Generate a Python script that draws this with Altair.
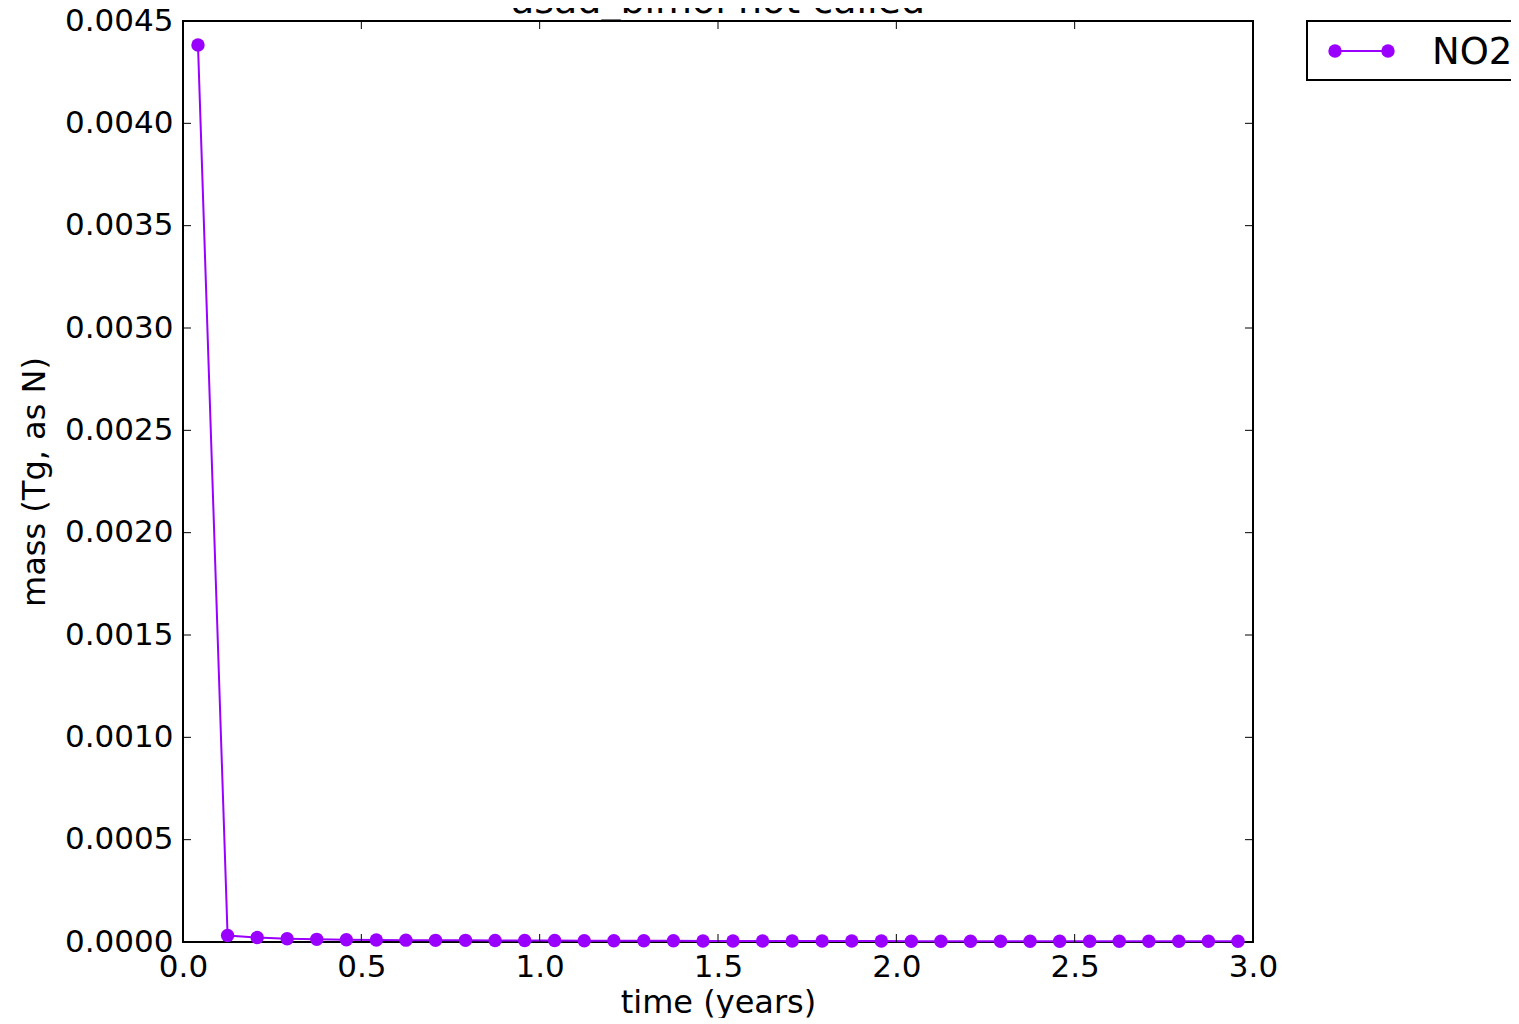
import altair as alt
import pandas as pd

# ---- data ----
time_years = [0.042, 0.125, 0.208, 0.292, 0.375, 0.458, 0.542, 0.625, 0.708,
              0.792, 0.875, 0.958, 1.042, 1.125, 1.208, 1.292, 1.375, 1.458,
              1.542, 1.625, 1.708, 1.792, 1.875, 1.958, 2.042, 2.125, 2.208,
              2.292, 2.375, 2.458, 2.542, 2.625, 2.708, 2.792, 2.875, 2.958]
no2_mass = [0.004383, 0.000032, 0.000022, 0.000016, 0.000013, 0.000011,
            0.000010, 0.000009, 0.000008, 0.000008, 0.000007, 0.000007,
            0.000007, 0.000006, 0.000006, 0.000006, 0.000006, 0.000005,
            0.000005, 0.000005, 0.000005, 0.000005, 0.000005, 0.000005,
            0.000004, 0.000004, 0.000004, 0.000004, 0.000004, 0.000004,
            0.000004, 0.000004, 0.000004, 0.000004, 0.000004, 0.000004]
series_name = ["NO2"]
x_ticks = [0.0, 0.5, 1.0, 1.5, 2.0, 2.5, 3.0]
y_ticks = [0.0, 0.0005, 0.0010, 0.0015, 0.0020, 0.0025, 0.0030, 0.0035, 0.0040, 0.0045]
chart_title = "asad_bimol not called"
x_title = "time (years)"
y_title = "mass (Tg, as N)"

PURPLE = "#9a00ff"
FONT = "DejaVu Sans"
W, H = 1070, 921

df = pd.DataFrame({"time": time_years, "mass": no2_mass, "series": series_name * len(time_years)})
xt = pd.DataFrame({"t": x_ticks})
yt = pd.DataFrame({"v": y_ticks})
leg = pd.DataFrame({"series": series_name})

xscale = alt.Scale(domain=[0, 3], nice=False, zero=False)
yscale = alt.Scale(domain=[0, 0.0045], nice=False, zero=False)
cscale = alt.Scale(domain=series_name, range=[PURPLE])

x_axis = alt.Axis(values=x_ticks, format=".1f", grid=False, ticks=False, domain=False,
                  labelFontSize=31, labelFont=FONT, labelColor="black", labelPadding=10,
                  labelFlush=False, title=x_title, titleFont=FONT, titleFontSize=32,
                  titleFontWeight="normal", titleColor="black", titleX=W / 2, titleY=60,
                  titleBaseline="middle", titleAlign="center")
y_axis = alt.Axis(values=y_ticks, format=".4f", grid=False, ticks=False, domain=False,
                  labelFontSize=31, labelFont=FONT, labelColor="black", labelPadding=10,
                  labelFlush=False, title=y_title, titleFont=FONT, titleFontSize=32,
                  titleFontWeight="normal", titleColor="black", titleX=-149, titleY=H / 2,
                  titleAngle=270, titleBaseline="middle", titleAlign="center")

base = alt.Chart(df)
line = base.mark_line(strokeWidth=2, clip=False).encode(
    x=alt.X("time:Q", scale=xscale, axis=x_axis),
    y=alt.Y("mass:Q", scale=yscale, axis=y_axis),
    color=alt.Color("series:N", scale=cscale, legend=None),
)
pts = base.mark_circle(size=180, opacity=1).encode(
    x=alt.X("time:Q", scale=xscale),
    y=alt.Y("mass:Q", scale=yscale),
    color=alt.Color("series:N", scale=cscale, legend=None),
)

# inward ticks on all four sides (matplotlib style)
tb = alt.Chart(xt).mark_rule(color="black", strokeWidth=1).encode(
    x=alt.X("t:Q", scale=xscale), y=alt.value(H), y2=alt.value(H - 8))
tt = alt.Chart(xt).mark_rule(color="black", strokeWidth=1).encode(
    x=alt.X("t:Q", scale=xscale), y=alt.value(0), y2=alt.value(8))
tl = alt.Chart(yt).mark_rule(color="black", strokeWidth=1).encode(
    y=alt.Y("v:Q", scale=yscale), x=alt.value(0), x2=alt.value(8))
tr = alt.Chart(yt).mark_rule(color="black", strokeWidth=1).encode(
    y=alt.Y("v:Q", scale=yscale), x=alt.value(W), x2=alt.value(W - 8))

# title (partially cut off at the top of the page, as in the reference)
title = alt.Chart(leg).mark_text(text=chart_title, font=FONT, fontSize=38, color="black",
                                 align="center", baseline="alphabetic").encode(
    x=alt.value(W / 2), y=alt.value(-8))

# legend drawn manually: box, line with two dots, label
lbox = alt.Chart(leg).mark_rect(fill="white", stroke="black", strokeWidth=2).encode(
    x=alt.value(1124), x2=alt.value(1360), y=alt.value(0), y2=alt.value(59))
lline = alt.Chart(leg).mark_rule(strokeWidth=2).encode(
    x=alt.value(1152), x2=alt.value(1205), y=alt.value(30),
    color=alt.Color("series:N", scale=cscale, legend=None))
ldot1 = alt.Chart(leg).mark_circle(size=180, opacity=1).encode(
    x=alt.value(1152), y=alt.value(30), color=alt.Color("series:N", scale=cscale, legend=None))
ldot2 = alt.Chart(leg).mark_circle(size=180, opacity=1).encode(
    x=alt.value(1205), y=alt.value(30), color=alt.Color("series:N", scale=cscale, legend=None))
ltext = alt.Chart(leg).mark_text(font=FONT, fontSize=37, color="black", align="left",
                                 baseline="middle").encode(
    x=alt.value(1249), y=alt.value(32), text="series:N")

chart = alt.layer(line, pts, tb, tt, tl, tr, title, lbox, lline, ldot1, ldot2, ltext).properties(
    width=W, height=H,
    padding={"left": 175, "top": 13, "right": 258, "bottom": 76},
    autosize=alt.AutoSizeParams(type="none"),
    background="white",
).configure_view(stroke="black", strokeWidth=2)

chart.save("out.html", embed_options={"renderer": "svg", "actions": False})
